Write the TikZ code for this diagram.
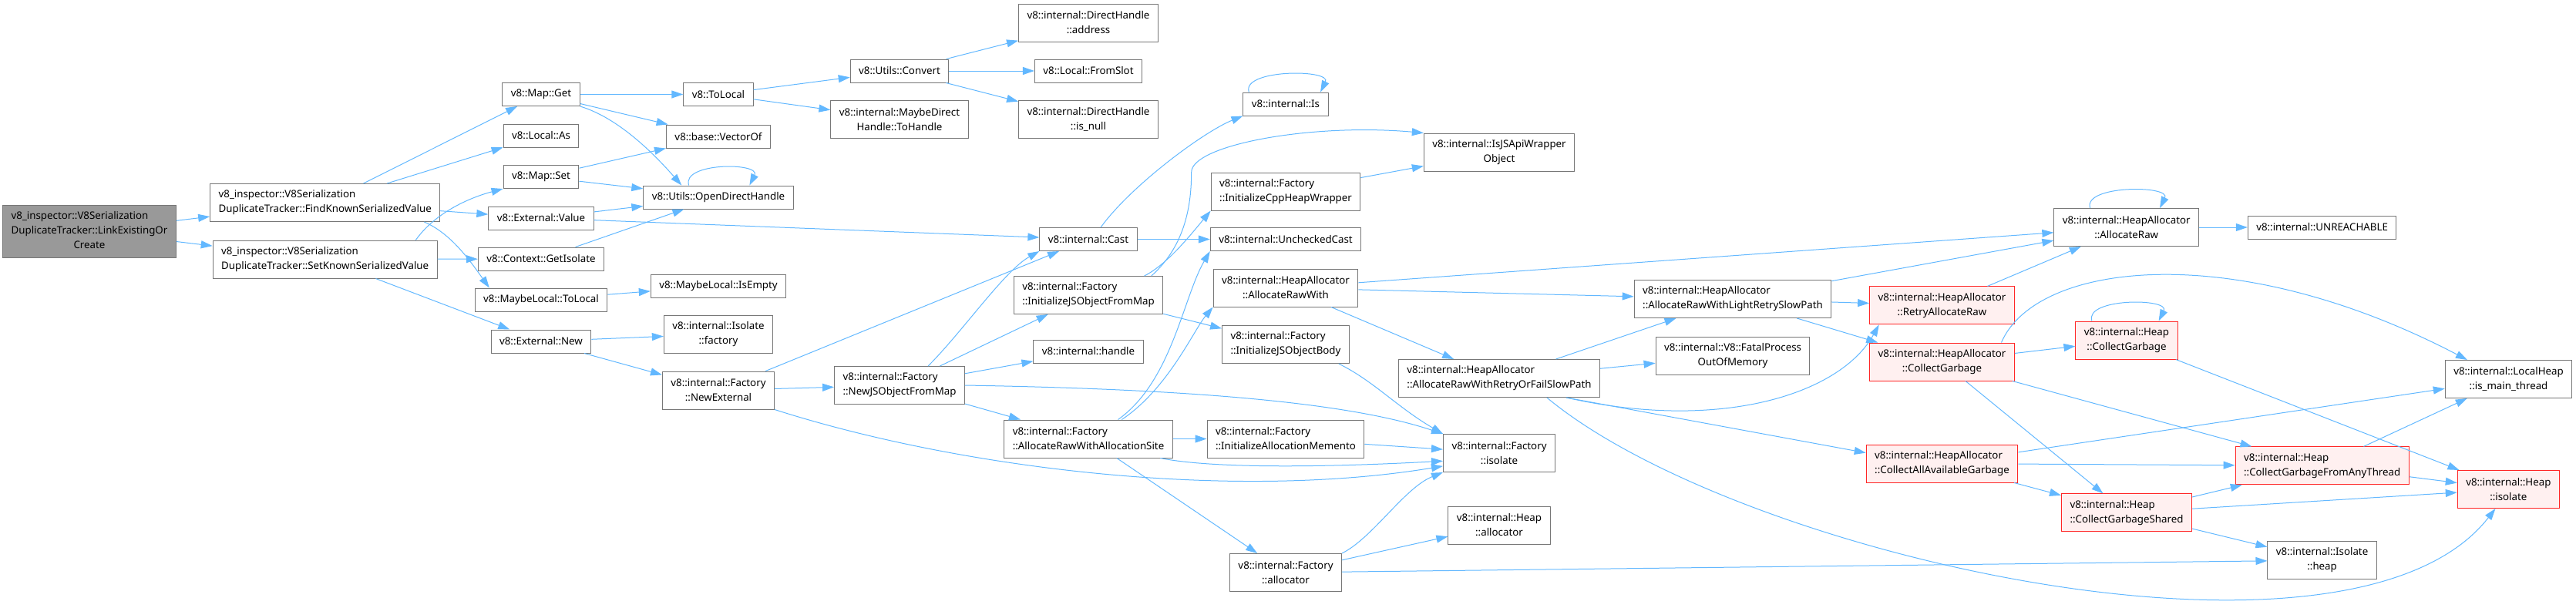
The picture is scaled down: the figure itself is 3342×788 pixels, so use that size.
\documentclass[tikz,border=0pt]{standalone}
\usepackage{fontspec}
\setmainfont{Noto Sans}
\usetikzlibrary{
    arrows.meta,
    calc
}
\definecolor{edgeblue}{HTML}{63B8FF}
\definecolor{boxgray}{HTML}{777777}
\definecolor{rootfill}{HTML}{999999}
\definecolor{hotfill}{HTML}{FFF0F0}
\tikzset{
    % --- Function box (one line) ---
    func/.style = {
        rectangle, draw=boxgray, line width=1pt, fill=white,
        minimum height=30pt, inner xsep=11pt, inner ysep=2pt,
        font=\fontsize{13.3}{19}\selectfont, align=center
    },
    % --- Function box (two lines) ---
    func2/.style = {
        func, minimum height=49pt
    },
    % --- Function the graph starts from ---
    root func/.style = {
        func, fill=rootfill, minimum height=68pt
    },
    % --- Function whose graph is cut off (red) ---
    hot func/.style = {
        func2, draw=red!85!white, fill=hotfill
    },
    % --- Call edge ---
    call/.style = {
        draw=edgeblue, line width=1pt,
        -{Triangle[length=15pt, width=10pt]}
    }
}

\begin{document}
\begin{tikzpicture}[x=1pt, y=-1pt]

\useasboundingbox (0,0) rectangle (3342,788);

% ---------------------------------------------------------
% Caller and its two callees
% ---------------------------------------------------------
\node[root func] (root) at (116,300) {%
    \begin{tabular}{@{}l@{}}
    v8\_inspector::V8Serialization\\
    DuplicateTracker::LinkExistingOr\\
    \multicolumn{1}{@{}c@{}}{Create}
    \end{tabular}};
\node[func2, align=left] (find) at (421.7,263) {v8\_inspector::V8Serialization\\DuplicateTracker::FindKnownSerializedValue};
\node[func2, align=left] (set)  at (421.7,336.5) {v8\_inspector::V8Serialization\\DuplicateTracker::SetKnownSerializedValue};

% ---------------------------------------------------------
% v8 API layer
% ---------------------------------------------------------
\node[func] (mapget)    at (702,122.5) {v8::Map::Get};
\node[func] (localas)   at (702,176)   {v8::Local::As};
\node[func] (mapset)    at (702,229.5) {v8::Map::Set};
\node[func] (extval)    at (702,283)   {v8::External::Value};
\node[func] (ctxiso)    at (702,336)   {v8::Context::GetIsolate};
\node[func] (mltolocal) at (702,389)   {v8::MaybeLocal::ToLocal};
\node[func] (extnew)    at (702,443)   {v8::External::New};

\node[func]  (tolocal)    at (932,122.5) {v8::ToLocal};
\node[func]  (vectorof)   at (932,177)   {v8::base::VectorOf};
\node[func]  (odh)        at (932,256)   {v8::Utils::OpenDirectHandle};
\node[func]  (isempty)    at (932,371)   {v8::MaybeLocal::IsEmpty};
\node[func2] (isofactory) at (932,433.5) {v8::internal::Isolate\\::factory};
\node[func2] (newext)     at (932,506.5) {v8::internal::Factory\\::NewExternal};

\node[func]  (convert)  at (1167,92)  {v8::Utils::Convert};
\node[func2] (tohandle) at (1167,155) {v8::internal::MaybeDirect\\Handle::ToHandle};
\node[func2, align=left] (newjsobj) at (1167,500) {v8::internal::Factory\\::NewJSObjectFromMap};

% ---------------------------------------------------------
% Factory internals
% ---------------------------------------------------------
\node[func2] (dhaddr)   at (1412,29.5) {v8::internal::DirectHandle\\::address};
\node[func]  (fromslot) at (1412,92)   {v8::Local::FromSlot};
\node[func2] (dhnull)   at (1412,155)  {v8::internal::DirectHandle\\::is\_null};
\node[func]  (cast)     at (1412,310.5) {v8::internal::Cast};
\node[func2, align=left] (initjsmap) at (1412,383) {v8::internal::Factory\\::InitializeJSObjectFromMap};
\node[func]  (handle)   at (1412,456)  {v8::internal::handle};
\node[func2, align=left] (allocsite) at (1412,569.5) {v8::internal::Factory\\::AllocateRawWithAllocationSite};

\node[func]  (is)        at (1668,135)   {v8::internal::Is};
\node[func2, align=left] (initcpp) at (1668,248.5) {v8::internal::Factory\\::InitializeCppHeapWrapper};
\node[func]  (unchecked) at (1668,310.5) {v8::internal::UncheckedCast};
\node[func2] (arw)       at (1668,373.5) {v8::internal::HeapAllocator\\::AllocateRawWith};
\node[func2, align=left] (initbody) at (1668,447) {v8::internal::Factory\\::InitializeJSObjectBody};
\node[func2, align=left] (initmemento) at (1668,569.5) {v8::internal::Factory\\::InitializeAllocationMemento};
\node[func2] (fallocator) at (1668,743)  {v8::internal::Factory\\::allocator};

\node[func2] (jsapi)     at (1945,197.5) {v8::internal::IsJSApiWrapper\\Object};
\node[func2, align=left] (retryfail) at (1945,491) {v8::internal::HeapAllocator\\::AllocateRawWithRetryOrFailSlowPath};
\node[func2] (fisolate)  at (1945,588)   {v8::internal::Factory\\::isolate};
\node[func2] (heapalloc) at (1945,681.5) {v8::internal::Heap\\::allocator};

% ---------------------------------------------------------
% Heap allocator and GC
% ---------------------------------------------------------
\node[func2, align=left] (lightretry) at (2248,388) {v8::internal::HeapAllocator\\::AllocateRawWithLightRetrySlowPath};
\node[func2] (fatal) at (2248,461.5) {v8::internal::V8::FatalProcess\\OutOfMemory};

\node[hot func] (retryraw)   at (2519.5,396.4) {v8::internal::HeapAllocator\\::RetryAllocateRaw};
\node[hot func] (hacollect)  at (2519.5,469.5) {v8::internal::HeapAllocator\\::CollectGarbage};
\node[hot func, align=left] (collectall) at (2519.5,601.5) {v8::internal::HeapAllocator\\::CollectAllAvailableGarbage};

\node[func2]    (allocraw)      at (2758.7,295)  {v8::internal::HeapAllocator\\::AllocateRaw};
\node[hot func] (heapcollect)   at (2759,441.5)  {v8::internal::Heap\\::CollectGarbage};
\node[hot func, align=left] (collectshared) at (2759,665.4) {v8::internal::Heap\\::CollectGarbageShared};

\node[func]     (unreachable) at (3012.6,295)   {v8::internal::UNREACHABLE};
\node[hot func, align=left] (anythread) at (3012.7,604.4) {v8::internal::Heap\\::CollectGarbageFromAnyThread};
\node[func2]    (isoheap)     at (3012.6,727)   {v8::internal::Isolate\\::heap};

\node[func2]    (mainthread)  at (3254.5,492)   {v8::internal::LocalHeap\\::is\_main\_thread};
\node[hot func] (heapisolate) at (3254.3,635)   {v8::internal::Heap\\::isolate};

% ---------------------------------------------------------
% Calls
% ---------------------------------------------------------
\draw[call] (root) -- (find);
\draw[call] (root) -- (set);

\draw[call] (find) -- (mapget);
\draw[call] (find) -- (localas);
\draw[call] (find) -- (extval);
\draw[call] (find.-11) .. controls +(35,15) and +(-25,-35) .. (mltolocal.167);
\draw[call] (set.12) .. controls +(25,-35) and +(-45,12) .. (mapset.south west);
\draw[call] (set) -- (ctxiso);
\draw[call] (set) -- (extnew);

\draw[call] (mapget) -- (tolocal);
\draw[call] (mapget) -- (vectorof);
\draw[call] (mapget.south east) .. controls +(50,15) and +(-35,-40) .. (odh.162);
\draw[call] (mapset) -- (vectorof);
\draw[call] (mapset) -- (odh);
\draw[call] (extval) -- (odh);
\draw[call] (extval) -- (cast);
\draw[call] (ctxiso) -- (odh);
\draw[call] (mltolocal) -- (isempty);
\draw[call] (extnew) -- (isofactory);
\draw[call] (extnew) -- (newext);
\draw[call] (odh.158) .. controls +(-10,-30) and +(15,-30) .. (odh.21);

\draw[call] (tolocal) -- (convert);
\draw[call] (tolocal) -- (tohandle);
\draw[call] (convert) -- (dhaddr);
\draw[call] (convert) -- (fromslot);
\draw[call] (convert) -- (dhnull);

\draw[call] (newext) -- (cast);
\draw[call] (newext) -- (newjsobj);
\draw[call] (newext.south east) .. controls +(244,78) and +(-272,45) .. (fisolate.-167);

\draw[call] (newjsobj.34) .. controls +(45,-45) and +(-45,25) .. (cast.south west);
\draw[call] (newjsobj) -- (initjsmap);
\draw[call] (newjsobj) -- (handle);
\draw[call] (newjsobj.east) .. controls +(300,5) and +(-120,-40) .. (fisolate.north west);
\draw[call] (newjsobj) -- (allocsite);

\draw[call] (initjsmap.19) .. controls +(30,-15) and +(-25,30) .. (initcpp.south west);
\draw[call] (initjsmap.17) .. controls +(45,-40) and +(0,40) .. ($(initcpp.north west)+(-25,0)$)
    .. controls +(0,-35) and +(-147,-13) .. (jsapi.north west);
\draw[call] (initjsmap) -- (initbody);

\draw[call] (cast.44) .. controls +(40,-55) and +(-50,20) .. (is.south west);
\draw[call] (cast) -- (unchecked);
\draw[call] (is.162) .. controls +(-10,-30) and +(15,-30) .. (is.19);

\draw[call] (initcpp) -- (jsapi);

\draw[call] (allocsite.33) .. controls +(70,-50) and +(-35,60) .. (unchecked.south west);
\draw[call] (allocsite.30) .. controls +(60,-40) and +(-25,30) .. (arw.south west);
\draw[call] (allocsite) -- (initmemento);
\draw[call] (allocsite.-15) .. controls +(70,14) and +(-150,8) .. (fisolate.-172);
\draw[call] (allocsite) -- (fallocator);

\draw[call] (arw) -- (allocraw);
\draw[call] (arw) -- (lightretry);
\draw[call] (arw) -- (retryfail);

\draw[call] (initbody.-20) .. controls +(45,22) and +(-60,-35) .. (fisolate.north west);
\draw[call] (initmemento) -- (fisolate);
\draw[call] (fallocator.north east) .. controls +(40,-20) and +(-50,20) .. (fisolate.south west);
\draw[call] (fallocator) -- (heapalloc);
\draw[call] (fallocator) -- (isoheap);

\draw[call] (retryfail) -- (lightretry);
\draw[call] (retryfail) -- (fatal);
\draw[call] (retryfail.-16) .. controls +(200,45) and +(-50,90) .. (retryraw.-163);
\draw[call] (retryfail.-16) -- (collectall.172);
\draw[call] (retryfail.-22) .. controls +(246,205) and +(-188,241) .. (heapisolate.-124);

\draw[call] (lightretry) -- (allocraw);
\draw[call] (lightretry) -- (retryraw);
\draw[call] (lightretry) -- (hacollect);
\draw[call] (retryraw) -- (allocraw);

\draw[call] (allocraw.152) .. controls +(-10,-30) and +(15,-30) .. (allocraw.30);
\draw[call] (allocraw) -- (unreachable);

\draw[call] (hacollect.18) .. controls +(45,-105) and +(-302,-158) .. (mainthread.155);
\draw[call] (hacollect) -- (heapcollect);
\draw[call] (hacollect) -- (anythread);
\draw[call] (hacollect) -- (collectshared);

\draw[call] (heapcollect.151) .. controls +(-10,-30) and +(15,-30) .. (heapcollect.31);
\draw[call] (heapcollect) -- (heapisolate);

\draw[call] (collectall) -- (mainthread);
\draw[call] (collectall) -- (anythread);
\draw[call] (collectall) -- (collectshared);

\draw[call] (anythread) -- (mainthread);
\draw[call] (anythread) -- (heapisolate);

\draw[call] (collectshared) -- (anythread);
\draw[call] (collectshared) -- (heapisolate);
\draw[call] (collectshared) -- (isoheap);

\end{tikzpicture}
\end{document}
